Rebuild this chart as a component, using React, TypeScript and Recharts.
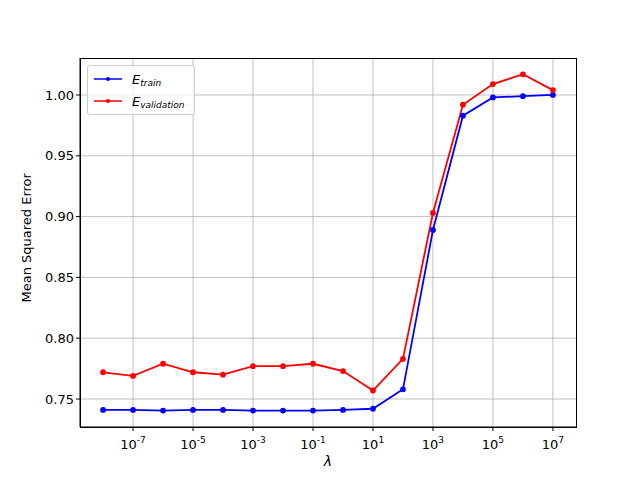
import { LineChart, Line, XAxis, YAxis, CartesianGrid } from 'recharts';

// log10(lambda)
const logLambda = [-8, -7, -6, -5, -4, -3, -2, -1, 0, 1, 2, 3, 4, 5, 6, 7];
const eTrain = [0.741, 0.741, 0.7405, 0.741, 0.741, 0.7405, 0.7405, 0.7405, 0.741, 0.742, 0.758, 0.889, 0.983, 0.998, 0.999, 1.0];
const eValidation = [0.772, 0.769, 0.779, 0.772, 0.770, 0.777, 0.777, 0.779, 0.773, 0.757, 0.783, 0.903, 0.992, 1.009, 1.017, 1.004];
const xTicks = [-7, -5, -3, -1, 1, 3, 5, 7];
const yTicks = [0.75, 0.8, 0.85, 0.9, 0.95, 1.0];

const data = logLambda.map((x, i) => ({ x, train: eTrain[i], val: eValidation[i] }));

const font = 'DejaVu Sans, sans-serif';

const PowTick = (props: any) => {
  const { x, y, payload } = props;
  return (
    <text x={x} y={y + 16} textAnchor="middle" fontSize={13} fontFamily={font} fill="#000">
      <tspan>10</tspan>
      <tspan dy={-6} fontSize={9}>{payload.value}</tspan>
    </text>
  );
};

const LegendRow = ({ color, sub }: { color: string; sub: string }) => (
  <div style={{ display: 'flex', alignItems: 'center', height: 22 }}>
    <svg width={30} height={10} style={{ marginRight: 8 }}>
      <line x1={0} y1={5} x2={28} y2={5} stroke={color} strokeWidth={1.5} />
      <circle cx={14} cy={5} r={2} fill={color} />
    </svg>
    <span style={{ fontStyle: 'italic', fontSize: 13 }}>E</span>
    <span style={{ fontStyle: 'italic', fontSize: 9, position: 'relative', top: 4 }}>{sub}</span>
  </div>
);

export default function App() {
  return (
    <div style={{ position: 'absolute', left: 0, top: 0, width: 640, height: 480, background: '#fff', fontFamily: font }}>
      <LineChart width={640} height={480} data={data} margin={{ top: 58, right: 64, bottom: 10, left: 0 }}>
        <CartesianGrid stroke="#b0b0b0" strokeWidth={0.8} horizontalValues={yTicks} verticalValues={xTicks} />
        <XAxis
          dataKey="x"
          type="number"
          height={43}
          domain={[-8.77, 7.77]}
          ticks={xTicks}
          tick={<PowTick />}
          tickSize={4}
          tickLine={{ stroke: '#000' }}
          axisLine={{ stroke: '#000' }}
          allowDataOverflow
          label={{ value: 'λ', position: 'insideBottom', offset: 4, fontStyle: 'italic', fontSize: 14, fill: '#000', fontFamily: font }}
        />
        <YAxis
          type="number"
          width={80}
          domain={[0.727, 1.0304]}
          ticks={yTicks}
          tickFormatter={(v: number) => v.toFixed(2)}
          tick={{ fontSize: 13, fill: '#000', fontFamily: font }}
          tickSize={4}
          tickLine={{ stroke: '#000' }}
          axisLine={{ stroke: '#000' }}
          allowDataOverflow
          label={{ value: 'Mean Squared Error', angle: -90, position: 'insideLeft', offset: 26, dy: 60, fontSize: 13, fill: '#000', fontFamily: font }}
        />
        <Line dataKey="train" stroke="#0000ff" strokeWidth={1.8} dot={{ r: 2, fill: '#0000ff', stroke: '#0000ff' }} isAnimationActive={false} />
        <Line dataKey="val" stroke="#ff0000" strokeWidth={1.8} dot={{ r: 2, fill: '#ff0000', stroke: '#ff0000' }} isAnimationActive={false} />
      </LineChart>
      <div style={{ position: 'absolute', left: 80, top: 58, width: 497, height: 370, border: '1px solid #000', boxSizing: 'border-box', pointerEvents: 'none' }} />
      <div style={{ position: 'absolute', left: 87, top: 65, width: 108, height: 50, border: '1px solid #ccc', borderRadius: 3, background: 'rgba(255,255,255,0.8)', boxSizing: 'border-box', padding: '2px 6px' }}>
        <LegendRow color="#0000ff" sub="train" />
        <LegendRow color="#ff0000" sub="validation" />
      </div>
    </div>
  );
}
